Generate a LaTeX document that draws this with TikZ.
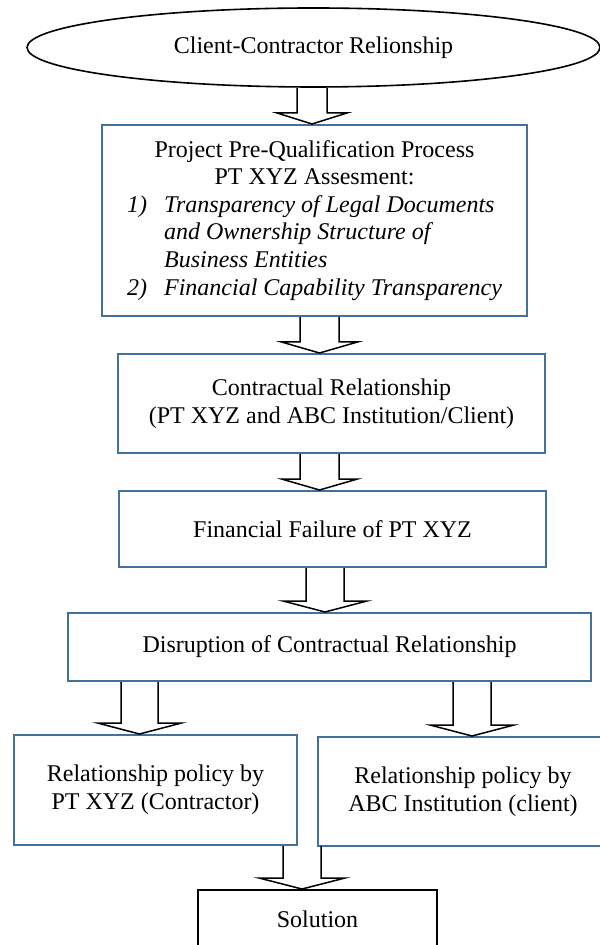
\documentclass[tikz,border=0pt]{standalone}
\usepackage{fontspec}
\setmainfont{Liberation Serif}
\usepackage[HTML]{xcolor}
\usepackage{tikz}
\usetikzlibrary{positioning, shapes.geometric, calc}
\definecolor{boxblue}{HTML}{41719C}

% hollow block arrow: upper anchor, lower anchor, x shift, shaft half width, head half width
\newcommand{\blockarrow}[5]{%
  \coordinate (ba-top) at ($(#1)+(#3,0)$);
  \coordinate (ba-tip) at (ba-top |- #2);
  \draw[hollow] ($(ba-top)+(-#4,0)$) -- ($(ba-tip)+(-#4,-11)$) -- ($(ba-tip)+(-#5,-11)$)
    -- (ba-tip) -- ($(ba-tip)+(#5,-11)$) -- ($(ba-tip)+(#4,-11)$) -- ($(ba-top)+(#4,0)$);
}

\begin{document}
\begin{tikzpicture}[x=0.5pt, y=-0.5pt,
  every node/.style={font=\fontsize{12pt}{13.8pt}\selectfont, inner sep=0pt},
  bluebox/.style={draw=boxblue, line width=1pt, rectangle, align=center},
  hollow/.style={draw=black, line width=0.75pt, line join=miter}]
\useasboundingbox (0,0) rectangle (599,945);

\node[ellipse, draw, line width=0.8pt, minimum width=286.5pt, minimum height=39.5pt] (rel) at (313.5,47.5) {Client-Contractor Relionship};

\node[bluebox, minimum width=212.5pt, minimum height=95.5pt] (ppq) at (314.5,220.5) {%
  \begin{tabular}{@{}p{18.5pt}@{}l@{}}
  \multicolumn{2}{c}{Project Pre-Qualification Process}\\
  \multicolumn{2}{c}{PT XYZ Assesment:}\\
  \textit{1)} & \textit{Transparency of Legal Documents}\\
   & \textit{and Ownership Structure of}\\
   & \textit{Business Entities}\\
  \textit{2)} & \textit{Financial Capability Transparency}
  \end{tabular}};

\node[bluebox, minimum width=213.5pt, minimum height=49.5pt] (contract) at (331.5,403.5) {Contractual Relationship\\(PT XYZ and ABC Institution/Client)};
\node[bluebox, minimum width=213.5pt, minimum height=38pt] (failure) at (332.5,529) {Financial Failure of PT XYZ};
\node[bluebox, minimum width=261.5pt, minimum height=34pt] (disrupt) at (329.5,647) {Disruption of Contractual Relationship};
\node[bluebox, minimum width=141.5pt, minimum height=55pt] (policyA) at (155.5,790) {Relationship policy by\\PT XYZ (Contractor)};
\node[bluebox, minimum width=145pt, minimum height=54.5pt] (policyB) at (463,791.5) {Relationship policy by\\ABC Institution (client)};
\node[draw, line width=1pt, minimum width=119.5pt, anchor=north, inner ysep=1pt, text height=17.5pt, text depth=40pt] (solution) at (317.5,889) {Solution};

\blockarrow{rel.south}{ppq.north}{-1.5}{15}{35}
\blockarrow{ppq.south}{contract.north}{5}{19.5}{38}
\blockarrow{contract.south}{failure.north}{-12}{19.5}{38}
\blockarrow{failure.south}{disrupt.north}{-7.5}{19}{42}
\blockarrow{disrupt.south}{policyA.north}{-190}{18.5}{42}
\blockarrow{disrupt.south}{policyB.north}{142.5}{19}{42}
\blockarrow{policyA.south}{solution.north}{146.5}{19}{43}
\end{tikzpicture}
\end{document}
